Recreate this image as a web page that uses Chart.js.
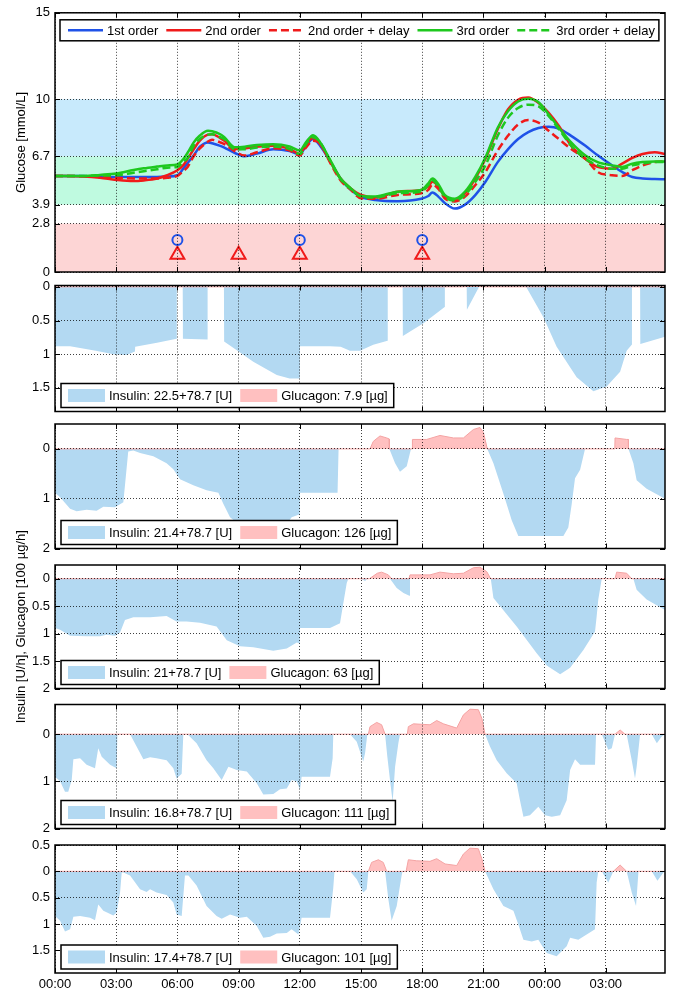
<!DOCTYPE html>
<html>
<head>
<meta charset="utf-8">
<title>Glucose, insulin and glucagon</title>
<script src="https://cdn.jsdelivr.net/npm/chart.js@4.4.1/dist/chart.umd.min.js"></script>
<style>
body { margin: 0; background: #fff; }
#wrap { position: relative; width: 675px; height: 993px; }
#wrap canvas { position: absolute; left: 0; top: 0; }
</style>
</head>
<body>
<div id="wrap">
<canvas id="c1" width="675" height="993"></canvas>
<canvas id="c2" width="675" height="993"></canvas>
<canvas id="c3" width="675" height="993"></canvas>
<canvas id="c4" width="675" height="993"></canvas>
<canvas id="c5" width="675" height="993"></canvas>
<canvas id="c6" width="675" height="993"></canvas>
</div>
<script>
// time axis, hours from midnight
const hourTicks = [0, 3, 6, 9, 12, 15, 18, 21, 24, 27];
const xMax = 29.9;

// glucose panel
const glucoseTicks = [0, 2.8, 3.9, 6.7, 10, 15];
const bandLimits = [[0, 2.8], [3.9, 6.7], [6.7, 10]];
const gHours = [0, 1.4, 2.2, 3, 3.85, 4.35, 5, 5.5, 6, 6.3, 6.5, 6.8, 7.1, 7.5, 7.7, 8.1, 8.3, 8.8, 9.3, 9.9, 10.7, 11.5, 12, 12.3, 12.65, 13, 13.5, 14, 14.5, 15, 15.7, 16.8, 17.95, 18.3, 18.5, 18.8, 19.1, 19.6, 20.1, 20.6, 21.1, 21.7, 22.2, 22.7, 23.2, 23.7, 24.2, 24.7, 25.3, 26, 26.6, 27.3, 27.8, 28.3, 28.8, 29.4, 29.9];
const gFirst = [5.56, 5.55, 5.52, 5.5, 5.5, 5.5, 5.5, 5.52, 5.6, 6.0, 6.3, 6.75, 7.25, 7.5, 7.45, 7.3, 7.2, 6.9, 6.7, 6.85, 7.1, 7.0, 6.8, 7.3, 7.7, 7.3, 6.4, 5.4, 4.75, 4.35, 4.17, 4.1, 4.24, 4.4, 4.6, 4.35, 4.0, 3.67, 3.9, 4.45, 5.22, 6.36, 7.1, 7.7, 8.1, 8.33, 8.41, 8.3, 7.88, 7.3, 6.75, 6.17, 5.79, 5.5, 5.41, 5.38, 5.37];
const gSecond = [5.56, 5.52, 5.45, 5.33, 5.26, 5.3, 5.41, 5.6, 5.89, 6.2, 6.55, 7.1, 7.6, 7.95, 7.97, 7.75, 7.6, 7.12, 7.15, 7.25, 7.31, 7.12, 6.83, 7.4, 7.75, 7.4, 6.36, 5.41, 4.84, 4.46, 4.31, 4.65, 4.75, 4.94, 5.22, 4.94, 4.37, 4.18, 4.56, 5.41, 6.55, 8.26, 9.4, 9.97, 10.1, 9.78, 9.21, 8.45, 7.31, 6.55, 6.08, 5.98, 6.27, 6.6, 6.83, 6.93, 6.83];
const gSecondDelay = [5.56, 5.54, 5.5, 5.45, 5.41, 5.41, 5.41, 5.45, 5.56, 5.85, 6.08, 6.7, 7.15, 7.55, 7.65, 7.5, 7.4, 7.0, 6.74, 6.93, 7.16, 7.03, 6.74, 7.2, 7.6, 7.45, 6.3, 5.3, 4.75, 4.27, 4.24, 4.46, 4.56, 4.75, 5.07, 4.8, 4.27, 4.08, 4.37, 5.03, 5.79, 7.03, 7.88, 8.54, 8.79, 8.64, 8.17, 7.69, 7.12, 6.55, 5.79, 5.6, 5.56, 5.89, 6.17, 6.36, 6.4];
const gThird = [5.56, 5.56, 5.62, 5.7, 5.9, 6.0, 6.1, 6.17, 6.23, 6.55, 6.9, 7.5, 7.9, 8.17, 8.15, 7.97, 7.8, 7.22, 7.25, 7.35, 7.4, 7.27, 7.03, 7.5, 7.92, 7.5, 6.46, 5.41, 4.84, 4.4, 4.37, 4.65, 4.75, 5.13, 5.41, 5.07, 4.46, 4.24, 4.65, 5.5, 6.63, 8.35, 9.3, 9.87, 10.02, 9.82, 9.11, 8.35, 7.5, 6.74, 6.36, 6.17, 6.08, 6.27, 6.36, 6.4, 6.4];
const gThirdDelay = [5.56, 5.56, 5.58, 5.6, 5.75, 5.83, 5.95, 6.04, 6.08, 6.4, 6.6, 7.3, 7.7, 7.95, 7.97, 7.8, 7.69, 7.1, 7.1, 7.2, 7.27, 7.12, 6.83, 7.4, 7.8, 7.5, 6.4, 5.37, 4.8, 4.37, 4.31, 4.56, 4.65, 5.03, 5.3, 4.94, 4.37, 4.14, 4.46, 5.22, 6.17, 7.88, 8.92, 9.49, 9.68, 9.59, 9.02, 8.26, 7.31, 6.55, 6.17, 5.98, 5.98, 6.17, 6.27, 6.36, 6.36];
const mealHours = [6, 12, 18];
const mealLevel = 1.85;
const bolusHours = [6, 9, 12, 18];
const bolusLevel = 1.0;

// insulin (positive, drawn downwards) and glucagon (negative, drawn upwards), U/h and 100 ug/h
const insAT = [0, 0.74, 2.0, 2.86, 3.51, 3.92, 3.93, 5.0, 5.96, 5.97, 6.26, 6.27, 7.47, 7.48, 8.28, 8.29, 9.0, 9.72, 10.87, 11.5, 12.0, 12.01, 13.48, 14.0, 14.46, 14.95, 15.6, 16.3, 16.31, 17.04, 17.05, 18.06, 19.1, 19.11, 20.18, 20.19, 20.75, 20.76, 23.09, 23.94, 24.59, 25.57, 26.39, 27.04, 27.7, 28.02, 28.27, 28.28, 28.68, 28.69, 29.9];
const insAV = [0.88, 0.88, 0.95, 1.0, 1.01, 0.96, 0.89, 0.83, 0.77, 0, 0, 0.77, 0.78, 0, 0, 0.81, 0.96, 1.11, 1.31, 1.36, 1.36, 0.88, 0.88, 0.89, 0.95, 0.95, 0.86, 0.8, 0, 0, 0.73, 0.54, 0.3, 0, 0, 0.34, 0.02, 0, 0, 0.45, 0.89, 1.34, 1.55, 1.48, 1.26, 0.95, 0.86, 0, 0, 0.85, 0.74];
const gluAT = [0, 20.0, 20.5, 21.0, 29.9];
const gluAV = [0, 0, -0.01, 0, 0];

const insBT = [0, 0.25, 0.74, 1.06, 1.55, 2.04, 2.37, 2.94, 3.35, 3.59, 3.84, 4.17, 4.82, 5.47, 5.8, 6.13, 6.78, 7.43, 8.01, 8.25, 8.58, 8.99, 11.36, 11.6, 12.0, 12.01, 13.85, 13.9, 16.39, 16.67, 16.91, 17.24, 17.4, 17.45, 21.19, 21.49, 21.98, 22.39, 22.71, 24.92, 25.16, 25.33, 25.49, 25.74, 25.98, 28.11, 28.35, 28.51, 29.0, 29.9];
const insBV = [0.88, 0.97, 1.2, 1.25, 1.22, 1.24, 1.16, 1.17, 1.07, 0.05, 0.03, 0.08, 0.15, 0.29, 0.41, 0.61, 0.73, 0.83, 0.88, 1.1, 1.37, 1.51, 1.51, 1.37, 1.31, 0.88, 0.88, 0, 0, 0.29, 0.46, 0.35, 0.08, 0, 0, 0.29, 0.9, 1.44, 1.75, 1.75, 1.58, 1.1, 0.59, 0.42, 0, 0, 0.29, 0.63, 0.8, 1.0];
const gluBT = [0, 15.44, 15.6, 15.93, 16.26, 16.38, 16.39, 17.51, 17.52, 18.22, 18.87, 19.53, 20.02, 20.51, 20.83, 21.0, 21.19, 27.44, 27.45, 28.02, 28.1, 28.11, 29.9];
const gluBV = [0, 0, -0.15, -0.26, -0.22, -0.2, 0, 0, -0.19, -0.19, -0.27, -0.22, -0.22, -0.39, -0.43, -0.33, 0, 0, -0.22, -0.19, -0.19, 0, 0];

const insCT = [0, 0.25, 0.74, 1.55, 2.21, 2.53, 2.94, 3.19, 3.43, 3.84, 4.66, 5.47, 5.96, 6.45, 7.11, 7.92, 8.42, 9.07, 9.72, 10.7, 11.36, 11.85, 12.0, 12.01, 13.48, 13.97, 14.13, 14.3, 14.38, 14.99, 15.2, 15.31, 16.42, 16.75, 17.08, 17.37, 17.4, 21.36, 21.49, 22.3, 22.63, 23.61, 24.1, 24.76, 25.25, 25.9, 26.47, 26.55, 26.63, 26.8, 28.35, 28.51, 29.0, 29.58, 29.9];
const insCV = [0.9, 0.93, 1.04, 1.05, 1.05, 1.02, 1.04, 0.98, 0.75, 0.7, 0.7, 0.68, 0.78, 0.78, 0.8, 0.87, 1.12, 1.23, 1.25, 1.31, 1.27, 1.16, 1.18, 0.9, 0.9, 0.81, 0.45, 0.08, 0, 0, 0.04, 0, 0, 0.17, 0.26, 0.31, 0, 0, 0.35, 0.72, 0.87, 1.36, 1.58, 1.74, 1.62, 1.3, 0.96, 0.69, 0.38, 0, 0, 0.2, 0.38, 0.5, 0.57];
const gluCT = [0, 15.41, 15.8, 16.01, 16.34, 16.5, 17.35, 17.4, 18.38, 18.87, 19.53, 20.02, 20.51, 20.83, 21.16, 21.36, 27.45, 27.53, 28.02, 28.27, 29.9];
const gluCV = [0, 0, -0.1, -0.12, -0.07, 0, 0, -0.07, -0.07, -0.12, -0.09, -0.1, -0.2, -0.21, -0.13, 0, 0, -0.12, -0.1, 0, 0];

const insDT = [0, 0.25, 0.49, 0.65, 0.82, 0.9, 1.23, 1.55, 1.96, 2.12, 2.29, 2.7, 3.02, 3.06, 3.68, 4.0, 4.33, 4.66, 4.98, 5.47, 5.8, 5.96, 6.21, 6.29, 6.49, 6.94, 7.43, 7.76, 8.17, 8.5, 8.91, 9.4, 9.89, 10.21, 10.7, 11.03, 11.36, 11.6, 11.85, 12.01, 12.09, 13.48, 13.61, 13.64, 14.46, 14.79, 15.11, 15.2, 15.31, 16.18, 16.29, 16.42, 16.55, 16.67, 16.83, 16.91, 21.08, 21.32, 21.65, 22.14, 22.63, 22.79, 22.96, 23.28, 23.69, 24.02, 24.35, 24.76, 25.08, 25.25, 25.49, 25.74, 26.47, 26.52, 26.8, 27.12, 27.29, 27.45, 28.02, 28.27, 28.43, 28.51, 28.68, 29.25, 29.5, 29.74, 29.9];
const insDV = [0.9, 1.0, 1.22, 1.22, 0.97, 0.53, 0.51, 0.65, 0.72, 0.3, 0.48, 0.65, 0.72, 0, 0, 0.26, 0.53, 0.49, 0.51, 0.55, 0.72, 0.94, 0.84, 0, 0, 0.19, 0.55, 0.72, 0.97, 0.69, 0.76, 0.79, 1.04, 1.28, 1.27, 1.17, 1.15, 0.97, 1.0, 1.18, 0.9, 0.9, 0.51, 0, 0, 0.16, 0.58, 0.4, 0, 0, 0.48, 0.97, 1.43, 0.69, 0.19, 0, 0, 0.26, 0.55, 0.83, 1.04, 1.4, 1.75, 1.72, 1.54, 1.72, 1.75, 1.72, 1.4, 0.76, 0.53, 0.65, 0.65, 0, 0, 0.33, 0.3, 0, 0, 0.55, 0.94, 0.69, 0, 0, 0.19, 0.05, 0];
const gluDT = [0, 15.36, 15.44, 15.77, 16.01, 16.18, 17.27, 17.32, 17.57, 18.38, 18.71, 19.04, 19.69, 20.02, 20.34, 20.75, 20.92, 21.08, 27.45, 27.7, 27.94, 29.9];
const gluDV = [0, 0, -0.16, -0.25, -0.2, 0, 0, -0.16, -0.22, -0.2, -0.29, -0.22, -0.13, -0.41, -0.53, -0.52, -0.34, 0, 0, -0.09, 0, 0];

const insET = [0, 0.25, 0.49, 0.74, 0.9, 1.23, 1.72, 1.96, 2.12, 2.37, 2.86, 3.02, 3.19, 3.27, 3.35, 3.68, 4.17, 4.49, 4.66, 4.98, 5.47, 5.8, 5.96, 6.21, 6.37, 6.54, 6.94, 7.43, 7.92, 8.17, 8.58, 9.07, 9.4, 9.89, 10.21, 10.54, 10.87, 11.36, 11.6, 11.93, 12.09, 13.48, 13.64, 13.7, 14.46, 14.79, 15.11, 15.28, 15.36, 16.18, 16.34, 16.5, 16.75, 16.99, 17.04, 21.08, 21.49, 21.98, 22.47, 22.71, 22.96, 23.37, 23.69, 24.1, 24.59, 25.08, 25.25, 25.65, 26.06, 26.47, 26.55, 26.63, 26.8, 27.12, 27.37, 28.02, 28.27, 28.48, 28.6, 29.25, 29.53, 29.82, 29.9];
const insEV = [0.85, 0.94, 1.14, 1.1, 0.86, 0.85, 0.88, 0.93, 0.63, 0.75, 0.84, 0.78, 0.4, 0.02, 0.02, 0.08, 0.34, 0.39, 0.34, 0.4, 0.45, 0.59, 0.82, 0.85, 0.08, 0.08, 0.27, 0.66, 0.85, 0.9, 0.82, 0.88, 0.86, 1.04, 1.26, 1.24, 1.18, 1.17, 1.1, 1.2, 0.88, 0.88, 0.31, 0, 0, 0.15, 0.4, 0.34, 0, 0, 0.53, 0.94, 0.66, 0.08, 0, 0, 0.34, 0.66, 0.75, 1.01, 1.3, 1.33, 1.3, 1.55, 1.61, 1.42, 1.26, 1.3, 1.2, 1.1, 0.21, 0, 0, 0.21, 0, 0, 0.4, 0.66, 0, 0, 0.18, 0.02, 0];
const gluET = [0, 15.36, 15.52, 15.85, 16.09, 16.26, 17.21, 17.32, 17.73, 18.38, 18.71, 19.12, 19.69, 20.02, 20.34, 20.75, 20.92, 21.08, 27.37, 27.7, 28.02, 29.9];
const gluEV = [0, 0, -0.17, -0.22, -0.17, 0, 0, -0.22, -0.2, -0.19, -0.24, -0.14, -0.11, -0.33, -0.44, -0.43, -0.24, 0, 0, -0.12, 0, 0];

const insLabels = ['Insulin: 22.5+78.7 [U]', 'Insulin: 21.4+78.7 [U]', 'Insulin: 21+78.7 [U]', 'Insulin: 16.8+78.7 [U]', 'Insulin: 17.4+78.7 [U]'];
const gluLabels = ['Glucagon: 7.9 [\u00b5g]', 'Glucagon: 126 [\u00b5g]', 'Glucagon: 63 [\u00b5g]', 'Glucagon: 111 [\u00b5g]', 'Glucagon: 101 [\u00b5g]'];
const yMins = [-0.02, -0.5, -0.25, -0.63, -0.5];
const yMaxs = [1.85, 2, 2, 2, 1.93];
const yTicks = [[0, 0.5, 1, 1.5], [0, 1, 2], [0, 0.5, 1, 1.5, 2], [0, 1, 2], [-0.5, 0, 0.5, 1, 1.5]];

// layout (px): top / bottom of each plot box
const H = 993;
const boxes = [[8, 272], [285.5, 411.5], [424, 548.5], [565, 688.5], [704.5, 828.5], [845, 973]];

Chart.defaults.font.family = '"Liberation Sans", Arial, Helvetica, sans-serif';
Chart.defaults.font.size = 13;
Chart.defaults.color = '#000';

const BLUE = '#1f52e8', RED = '#f01a1a', GREEN = '#1ec81e';
const bandColors = ['#fdd5d5', '#bffae0', '#c8eafc'];
const INS = '#b3d9f2', GLU = '#ffc0c0', GLU_EDGE = '#f4a3a3';

const pts = (t, v) => t.map((h, i) => ({x: h, y: v[i]}));
const clock = v => String(v % 24).padStart(2, '0') + ':00';

// box, inward ticks and boxed legend, drawn on top like matlab does
const frame = {
  id: 'frame',
  afterDraw(chart, args, o) {
    const {ctx, chartArea: a, scales: {x, y}} = chart;
    ctx.save();
    ctx.strokeStyle = '#000';
    ctx.lineWidth = 1;
    const L = a.left, R = a.right, T = a.top, B = a.bottom;
    ctx.beginPath();
    x.ticks.forEach(t => {
      const px = Math.round(x.getPixelForValue(t.value)) + 0.5;
      ctx.moveTo(px, T); ctx.lineTo(px, T + 5);
      ctx.moveTo(px, B); ctx.lineTo(px, B - 5);
    });
    y.ticks.forEach(t => {
      const py = Math.round(y.getPixelForValue(t.value)) + 0.5;
      ctx.moveTo(L, py); ctx.lineTo(L + 5, py);
      ctx.moveTo(R, py); ctx.lineTo(R - 5, py);
    });
    ctx.stroke();
    ctx.lineWidth = 1.5;
    ctx.strokeRect(L, T, R - L, B - T);

    const items = chart.data.datasets.filter(d => d.label);
    ctx.font = '13px "Liberation Sans", Arial, sans-serif';
    let w = o.padL + o.padR;
    items.forEach((d, i) => { w += o.sample + 4 + ctx.measureText(d.label).width + (i ? o.gap : 0); });
    const bx = L + o.dx;
    const by = o.bottom ? B - o.dy - o.h : T + o.dy;
    ctx.fillStyle = '#fff';
    ctx.fillRect(bx, by, w, o.h);
    ctx.strokeRect(bx, by, w, o.h);
    let cx = bx + o.padL;
    const cy = by + o.h / 2;
    items.forEach(d => {
      if (o.swatch === 'line') {
        ctx.strokeStyle = d.borderColor;
        ctx.lineWidth = d.borderWidth;
        ctx.setLineDash(d.borderDash || []);
        ctx.beginPath(); ctx.moveTo(cx, cy); ctx.lineTo(cx + o.sample, cy); ctx.stroke();
        ctx.setLineDash([]);
      } else {
        ctx.fillStyle = d.backgroundColor;
        ctx.fillRect(cx, cy - 6.5, o.sample, 13);
      }
      ctx.fillStyle = '#000';
      ctx.textBaseline = 'middle';
      ctx.fillText(d.label, cx + o.sample + 4, cy + 1);
      cx += o.sample + 4 + ctx.measureText(d.label).width + o.gap;
    });
    ctx.restore();
  }
};

// coloured glucose ranges behind the curves
const bands = {
  id: 'bands',
  beforeDatasetsDraw(chart) {
    const {ctx, chartArea: a, scales: {y}} = chart;
    ctx.save();
    bandLimits.forEach((b, i) => {
      const y1 = y.getPixelForValue(b[0]), y2 = y.getPixelForValue(b[1]);
      ctx.fillStyle = bandColors[i];
      ctx.fillRect(a.left, Math.min(y1, y2), a.width, Math.abs(y2 - y1));
    });
    ctx.restore();
  }
};

// dotted grid on top of the filled areas
function gridOpts() { return {color: 'rgba(0,0,0,0.75)', lineWidth: 1, drawTicks: false, z: 1}; }
function borderOpts() { return {display: false, dash: [1, 2]}; }

function xAxis(labelHeight) {
  return {
    type: 'linear', min: 0, max: xMax,
    afterBuildTicks: s => { s.ticks = hourTicks.map(v => ({value: v})); },
    afterFit: s => { s.height = labelHeight; },
    grid: gridOpts(), border: borderOpts(),
    ticks: {display: labelHeight > 0, autoSkip: false, maxRotation: 0, padding: 4, callback: v => clock(v)}
  };
}

function yAxis(min, max, ticks, reverse, title) {
  return {
    type: 'linear', min, max, reverse,
    afterBuildTicks: s => { s.ticks = ticks.map(v => ({value: v})); },
    afterFit: s => { s.width = 41; },
    grid: gridOpts(), border: borderOpts(),
    ticks: {autoSkip: false, padding: 5, callback: v => String(Math.abs(v))},
    title: {display: !!title, text: title || '', padding: 0}
  };
}

function panel(id, box, datasets, y, legend, showLabels, extra) {
  const labelHeight = showLabels ? H - box[1] : 0;
  return new Chart(document.getElementById(id), {
    type: 'line',
    data: {datasets},
    options: {
      responsive: false, animation: false, events: [],
      layout: {autoPadding: false, padding: {left: 14, right: 10, top: box[0], bottom: H - box[1] - labelHeight}},
      scales: {x: xAxis(labelHeight), y},
      plugins: {legend: {display: false}, tooltip: {enabled: false}, frame: legend}
    },
    plugins: [frame].concat(extra || [])
  });
}

const curve = (label, v, color, dash, order) => ({
  label, data: pts(gHours, v), borderColor: color, backgroundColor: color,
  borderWidth: 2.5, borderDash: dash, pointRadius: 0, fill: false,
  cubicInterpolationMode: 'monotone', order
});

panel('c1', boxes[0], [
  curve('1st order', gFirst, BLUE, [], 5),
  curve('2nd order', gSecond, RED, [], 4),
  curve('2nd order + delay', gSecondDelay, RED, [8, 4], 3),
  curve('3rd order', gThird, GREEN, [], 2),
  curve('3rd order + delay', gThirdDelay, GREEN, [8, 4], 1),
  {data: mealHours.map(h => ({x: h, y: mealLevel})), showLine: false, pointStyle: 'circle',
   pointRadius: 5, pointBorderWidth: 2, pointBorderColor: BLUE, pointBackgroundColor: 'rgba(0,0,0,0)', order: 0},
  {data: bolusHours.map(h => ({x: h, y: bolusLevel})), showLine: false, pointStyle: 'triangle',
   pointRadius: 8, pointBorderWidth: 2, pointBorderColor: RED, pointBackgroundColor: 'rgba(0,0,0,0)', order: 0}
], yAxis(0, 15, glucoseTicks, false, 'Glucose [mmol/L]'),
  {swatch: 'line', dx: 5, dy: 7, h: 21, sample: 35, gap: 8, padL: 8, padR: 4, bottom: false}, false, [bands]);

const insT = [insAT, insBT, insCT, insDT, insET];
const insV = [insAV, insBV, insCV, insDV, insEV];
const gluT = [gluAT, gluBT, gluCT, gluDT, gluET];
const gluV = [gluAV, gluBV, gluCV, gluDV, gluEV];

for (let k = 0; k < 5; k++) {
  panel('c' + (k + 2), boxes[k + 1], [
    {label: insLabels[k], data: pts(insT[k], insV[k]), backgroundColor: INS, borderColor: INS,
     borderWidth: 0, pointRadius: 0, fill: {value: 0}, tension: 0, order: 2},
    {label: gluLabels[k], data: pts(gluT[k], gluV[k]), backgroundColor: GLU, borderColor: GLU_EDGE,
     borderWidth: 1, pointRadius: 0, fill: {value: 0}, tension: 0, order: 1}
  ], yAxis(yMins[k], yMaxs[k], yTicks[k], true, k === 2 ? 'Insulin [U/h], Glucagon [100 \u00b5g/h]' : ''),
    {swatch: 'box', dx: 6, dy: 4, h: 24, sample: 37, gap: 8, padL: 7, padR: 6, bottom: true}, k === 4);
}
</script>
</body>
</html>
